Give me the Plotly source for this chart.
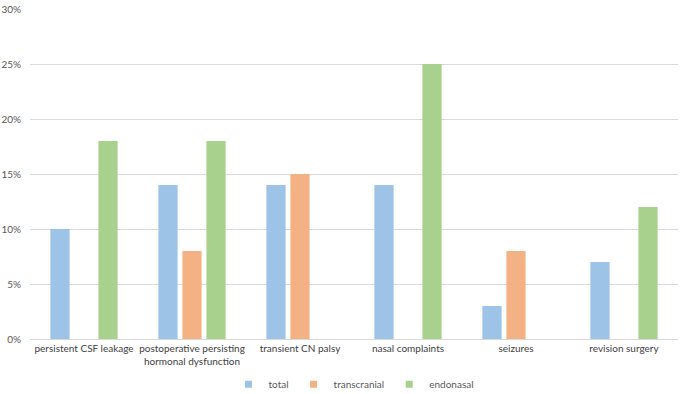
import plotly.graph_objects as go

categories = ["persistent CSF leakage", "postoperative persisting<br>hormonal dysfunction",
              "transient CN palsy", "nasal complaints", "seizures", "revision surgery"]
total = [10, 14, 14, 14, 3, 7]
transcranial = [None, 8, 15, None, 8, None]
endonasal = [18, 18, None, 25, None, 12]

colors = {"total": "#9DC3E6", "transcranial": "#F4B183", "endonasal": "#A9D18E"}

fig = go.Figure()
for name, vals in [("total", total), ("transcranial", transcranial), ("endonasal", endonasal)]:
    fig.add_trace(go.Bar(x=categories, y=vals, name=name, marker_color=colors[name],
                         marker_line_width=0, showlegend=False, hoverinfo="skip"))
    # legend entry with a small square swatch
    fig.add_trace(go.Scatter(x=[None], y=[None], mode="markers", name=name,
                             marker=dict(symbol="square", size=7, color=colors[name])))

fig.update_layout(
    width=685, height=394,
    margin=dict(l=30, r=7, t=9, b=55),
    plot_bgcolor="white", paper_bgcolor="white",
    barmode="group", bargap=0.333, bargroupgap=0.2,
    font=dict(family="Lato, Open Sans, sans-serif", size=10, color="#595959"),
    showlegend=True,
    hovermode=False,
    legend=dict(orientation="h", x=0.5, xanchor="center", yref="container", y=0.025,
                yanchor="middle", font=dict(size=10, color="#595959"), itemwidth=30,
                traceorder="normal", itemclick=False),
    xaxis=dict(showgrid=False, showline=True, linecolor="#d9d9d9", linewidth=1,
               tickfont=dict(size=10, color="#404040"), ticks="", automargin=False),
    yaxis=dict(range=[0, 30], dtick=5, ticksuffix="%", showgrid=True, gridcolor="#d9d9d9",
               gridwidth=1, zeroline=False, showline=False, automargin=False,
               ticks="outside", ticklen=6, tickcolor="rgba(0,0,0,0)",
               tickfont=dict(size=10, color="#595959")),
)

fig.write_html("out.html", config={"displayModeBar": False},
               post_script="document.body.style.margin='0';document.body.style.overflow='hidden';")
